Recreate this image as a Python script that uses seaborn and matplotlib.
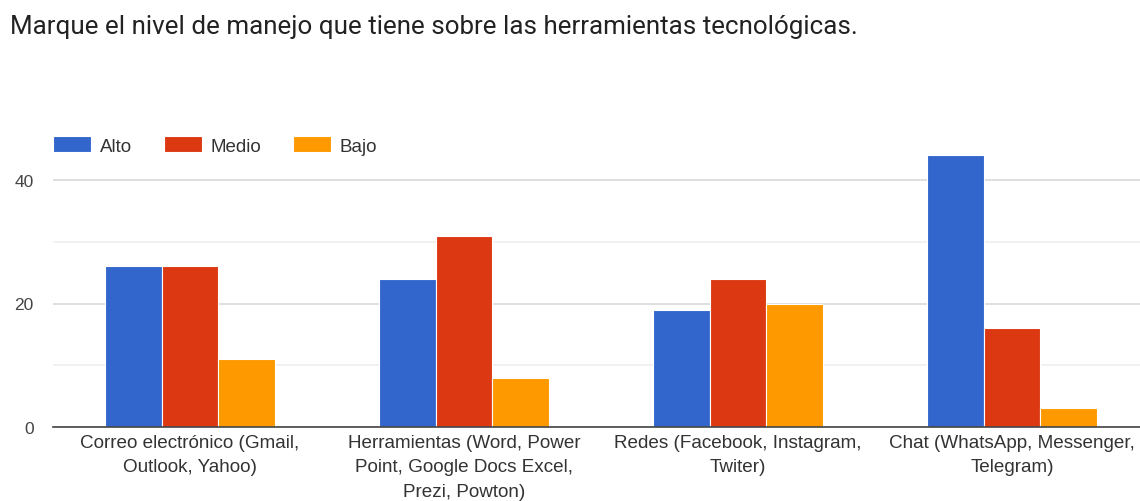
import matplotlib
matplotlib.use("Agg")
import matplotlib.pyplot as plt
import seaborn as sns
import pandas as pd

categories = [
    "Correo electrónico (Gmail,\nOutlook, Yahoo)",
    "Herramientas (Word, Power\nPoint, Google Docs Excel,\nPrezi, Powton)",
    "Redes (Facebook, Instagram,\nTwiter)",
    "Chat (WhatsApp, Messenger,\nTelegram)",
]
series = ["Alto", "Medio", "Bajo"]
alto = [26, 24, 19, 44]
medio = [26, 31, 24, 16]
bajo = [11, 8, 20, 3]
colors = ["#3366cc", "#dc3912", "#ff9900"]
title = "Marque el nivel de manejo que tiene sobre las herramientas tecnológicas."

rows = []
for name, vals in zip(series, [alto, medio, bajo]):
    for c, v in zip(categories, vals):
        rows.append({"cat": c, "nivel": name, "valor": v})
df = pd.DataFrame(rows)

sns.set_style("white")
plt.rcParams["font.family"] = ["Liberation Sans", "DejaVu Sans"]

fig = plt.figure(figsize=(11.4, 5.02), dpi=100)
ax = fig.add_axes([53 / 1140, 74 / 502, 1096 / 1140, (428 - 131.6) / 502])

sns.barplot(data=df, x="cat", y="valor", hue="nivel", order=categories,
            hue_order=series, palette=colors, width=0.62, gap=0.0,
            edgecolor="white", linewidth=0.8, saturation=1, ax=ax)

ax.set_ylim(0, 48)
ax.set_xlim(-0.5, 3.5)
ax.set_yticks([0, 20, 40])
ax.set_yticks([10, 30], minor=True)
ax.yaxis.grid(True, which="major", color="#d9d9d9", linewidth=1.2)
ax.yaxis.grid(True, which="minor", color="#efefef", linewidth=1.2)
ax.set_axisbelow(True)
for s in ["top", "right", "left"]:
    ax.spines[s].set_visible(False)
ax.spines["bottom"].set_color("#444444")
ax.spines["bottom"].set_linewidth(1.2)
ax.set_xlabel("")
ax.set_ylabel("")
ax.tick_params(axis="y", which="both", length=0, pad=14, labelsize=12.5, labelcolor="#444444")
ax.tick_params(axis="x", length=0, pad=5, labelsize=13.6, labelcolor="#333333")
for lab in ax.get_xticklabels():
    lab.set_linespacing(1.58)

leg = ax.legend(loc="upper left", bbox_to_anchor=(53 / 1140, 1 - 137 / 502),
                bbox_transform=fig.transFigure, ncol=3, frameon=False,
                borderaxespad=0, borderpad=0,
                handlelength=2.05, handleheight=0.97, columnspacing=1.7,
                handletextpad=0.43, fontsize=13.5)
for t in leg.get_texts():
    t.set_color("#333333")

fig.text(10 / 1140, 1 - 27 / 502, title, fontsize=18.7, color="#222222",
         family=["Roboto", "DejaVu Sans"], va="center", ha="left")

fig.savefig("out.png", dpi=100, facecolor="white")
